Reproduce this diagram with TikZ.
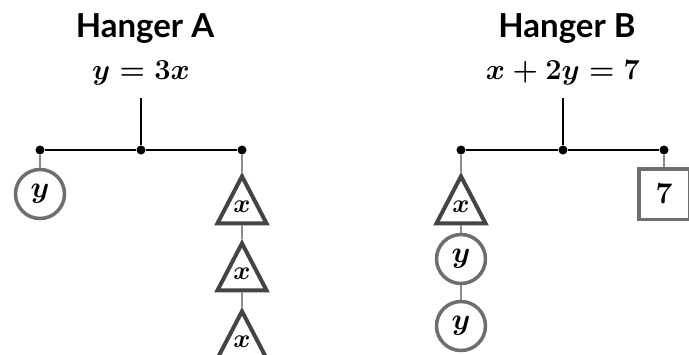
\RequirePackage{fix-cm}
\documentclass[tikz,border=0pt]{standalone}
\usepackage{fontspec}
\usepackage{amsmath,bm}
\usepackage{tikz}
\usetikzlibrary{shapes,positioning}
\newfontfamily\hangerfont{Lato}
\definecolor{weightgray}{HTML}{6E6E6E}
\definecolor{triangray}{HTML}{444444}
\definecolor{stringgray}{HTML}{8C8C8C}
\tikzset{
	hangertitle/.style={anchor=base, font=\hangerfont\bfseries\fontsize{33}{38}\selectfont},
	hangereq/.style={anchor=base, font=\fontsize{29}{34}\selectfont\boldmath},
	bar/.style={line width=2.4pt, black},
	joint/.style={circle, fill=black, inner sep=0pt, minimum size=9pt},
	string/.style={line width=1.4pt, stringgray},
	weightfont/.style={font=\fontsize{30}{34}\selectfont\boldmath},
	yweight/.style={circle, draw=weightgray, line width=3.5pt, fill=white, inner sep=0pt, minimum size=49pt, weightfont},
	xweight/.style={isosceles triangle, isosceles triangle apex angle=55, shape border rotate=90,
		isosceles triangle stretches, minimum width=49pt, minimum height=47pt,
		draw=triangray, line width=4pt, fill=white, inner sep=0pt, anchor=apex},
	xlabel/.style={label={[font=\fontsize{26}{30}\selectfont\boldmath, inner sep=0pt, yshift=2pt]center:$#1$}},
	numweight/.style={rectangle, draw=weightgray, line width=3.5pt, fill=white, inner sep=0pt, minimum size=50.5pt, weightfont}
}
\begin{document}
\begin{tikzpicture}[x=1pt,y=-1pt]
	\useasboundingbox (0,0) rectangle (689,354);
	
	% Hanger A
	\begin{scope}[shift={(0,0)}]
		\node[hangertitle] (titleA) at (145,37) {Hanger A};
		\node[hangereq] (eqA) at (141,79) {$y=3x$};
		\coordinate (hookA) at (141,98);
		\node[joint] (pivotA) at (141,150) {};
		\node[joint] (leftA) at (40,150) {};
		\node[joint] (rightA) at (242,150) {};
		\draw[bar] (hookA) -- (pivotA);
		\draw[bar] (leftA) -- (pivotA) -- (rightA);
		\node[yweight] (yA) at (40,194) {$y$};
		\node[xweight, xlabel=x] (xA1) at (242,172) {};
		\node[xweight, xlabel=x] (xA2) at (242,239) {};
		\node[xweight, xlabel=x] (xA3) at (242,307) {};
		\draw[string] (leftA) -- (yA.north);
		\draw[string] (rightA) -- (xA1.apex);
		\draw[string] (xA1.lower side) -- (xA2.apex);
		\draw[string] (xA2.lower side) -- (xA3.apex);
	\end{scope}
	
	% Hanger B
	\begin{scope}[shift={(422,0)}]
		\node[hangertitle] (titleB) at (145,37) {Hanger B};
		\node[hangereq] (eqB) at (141,79) {$x+2y=7$};
		\coordinate (hookB) at (141,98);
		\node[joint] (pivotB) at (141,150) {};
		\node[joint] (leftB) at (39,150) {};
		\node[joint] (rightB) at (242,150) {};
		\draw[bar] (hookB) -- (pivotB);
		\draw[bar] (leftB) -- (pivotB) -- (rightB);
		\node[xweight, xlabel=x] (xB) at (39,172) {};
		\node[yweight] (yB1) at (39,259) {$y$};
		\node[yweight] (yB2) at (39,326) {$y$};
		\node[numweight] (sevenB) at (242,194) {$7$};
		\draw[string] (leftB) -- (xB.apex);
		\draw[string] (xB.lower side) -- (yB1.north);
		\draw[string] (yB1.south) -- (yB2.north);
		\draw[string] (rightB) -- (sevenB.north);
	\end{scope}
	
\end{tikzpicture}
\end{document}
